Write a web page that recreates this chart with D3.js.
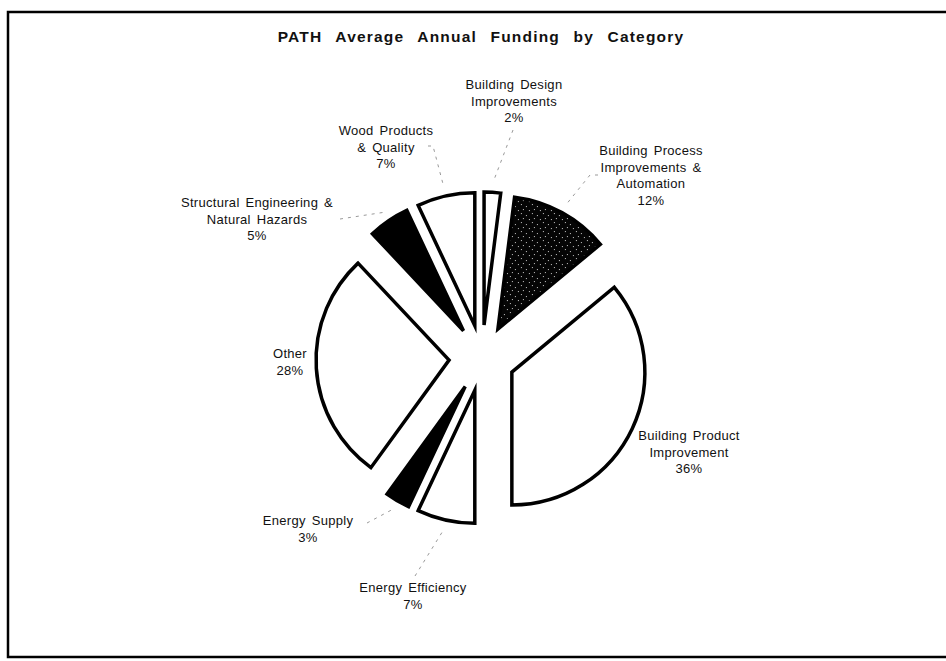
<!DOCTYPE html>
<html>
<head>
<meta charset="utf-8">
<script src="https://cdn.jsdelivr.net/npm/d3@7"></script>
<style>
  html, body { margin: 0; padding: 0; background: #fff; }
  svg { display: block; }
  text { font-family: "Liberation Sans", Arial, Helvetica, sans-serif; fill: #111; }
</style>
</head>
<body>
<svg id="chart" width="946" height="661"></svg>
<script>
// donnees, sens horaire depuis midi
var categories = [
  "Building Design Improvements",
  "Building Process Improvements & Automation",
  "Building Product Improvement",
  "Energy Efficiency",
  "Energy Supply",
  "Other",
  "Structural Engineering & Natural Hazards",
  "Wood Products & Quality"
];
var shares = [2, 12, 36, 7, 3, 28, 5, 7];
var labelLines = [
  ["Building Design", "Improvements"],
  ["Building Process", "Improvements &", "Automation"],
  ["Building Product", "Improvement"],
  ["Energy  Efficiency"],
  ["Energy Supply"],
  ["Other"],
  ["Structural Engineering &", "Natural Hazards"],
  ["Wood Products", "& Quality"]
];
var title = "PATH Average Annual Funding by Category";

// mise en page (pas des donnees)
var cx = 482, cy = 358, radius = 133, explode = 33, leaderR = 176;
var labelPos = {
  "Building Design Improvements": { x: 514, y: 89, lead: [[513, 130]] },
  "Building Process Improvements & Automation": { x: 651, y: 155, lead: [[598, 175], [590, 175]] },
  "Building Product Improvement": { x: 689, y: 440 },
  "Energy Efficiency": { x: 413, y: 592, lead: [[415, 576]] },
  "Energy Supply": { x: 308, y: 525, lead: [[367, 523]] },
  "Other": { x: 290, y: 358 },
  "Structural Engineering & Natural Hazards": { x: 257, y: 207, lead: [[340, 219]] },
  "Wood Products & Quality": { x: 386, y: 135, lead: [[428, 146], [433, 146]] }
};
var lineH = 16.7;

var fill = d3.scaleOrdinal()
  .domain(categories)
  .range(["#fff", "url(#stipple)", "#fff", "#fff", "#000", "#fff", "#000", "#fff"]);

var svg = d3.select("#chart");

// motif pointille pour la tranche sombre
var defs = svg.append("defs");
var pat = defs.append("pattern")
  .attr("id", "stipple")
  .attr("patternUnits", "userSpaceOnUse")
  .attr("width", 11).attr("height", 9);
pat.append("rect").attr("width", 11).attr("height", 9).attr("fill", "#050505");
[[1, 1], [6, 3], [3, 6], [9, 7]].forEach(function(p) {
  pat.append("rect").attr("x", p[0]).attr("y", p[1]).attr("width", 1).attr("height", 1).attr("fill", "#ccc");
});

// cadre
svg.append("rect")
  .attr("x", 8).attr("y", 12)
  .attr("width", 960).attr("height", 645)
  .attr("fill", "none")
  .attr("stroke", "#000")
  .attr("stroke-width", 2.5);

// titre
svg.append("text")
  .attr("x", 481).attr("y", 42)
  .attr("text-anchor", "middle")
  .style("font-size", "15.5px")
  .style("font-weight", "bold")
  .style("letter-spacing", "1.2px")
  .style("word-spacing", "8px")
  .text(title);

var pie = d3.pie().sort(null).value(function(d) { return d.value; });
var arcs = pie(categories.map(function(c, i) { return { name: c, value: shares[i], lines: labelLines[i] }; }));

var arc = d3.arc().innerRadius(0).outerRadius(radius);

function mid(d) { return (d.startAngle + d.endAngle) / 2; }
function polar(a, r) { return [cx + r * Math.sin(a), cy - r * Math.cos(a)]; }

// lignes de rappel
var line = d3.line();
svg.append("g").selectAll("path")
  .data(arcs.filter(function(d) { return labelPos[d.data.name].lead; }))
  .join("path")
  .attr("d", function(d) {
    var pts = labelPos[d.data.name].lead.concat([polar(mid(d), leaderR)]);
    return line(pts);
  })
  .attr("fill", "none")
  .attr("stroke", "#999")
  .attr("stroke-width", 1)
  .attr("stroke-dasharray", "3,5");

// tranches eclatees
svg.append("g").selectAll("path")
  .data(arcs)
  .join("path")
  .attr("transform", function(d) {
    var p = polar(mid(d), explode);
    return "translate(" + p[0] + "," + p[1] + ")";
  })
  .attr("d", arc)
  .attr("fill", function(d) { return fill(d.data.name); })
  .attr("stroke", "#000")
  .attr("stroke-width", 3.5)
  .attr("stroke-linejoin", "miter")
  .attr("stroke-miterlimit", 6);

// etiquettes
var labels = svg.append("g").selectAll("text")
  .data(arcs)
  .join("text")
  .attr("text-anchor", "middle")
  .style("font-size", "13px")
  .style("letter-spacing", "0.3px")
  .style("word-spacing", "2px");

labels.each(function(d) {
  var pos = labelPos[d.data.name];
  var t = d3.select(this);
  var rows = d.data.lines.concat([d.data.value + "%"]);
  rows.forEach(function(s, i) {
    t.append("tspan")
      .attr("x", pos.x)
      .attr("y", pos.y + i * lineH)
      .text(s);
  });
});
</script>
</body>
</html>
